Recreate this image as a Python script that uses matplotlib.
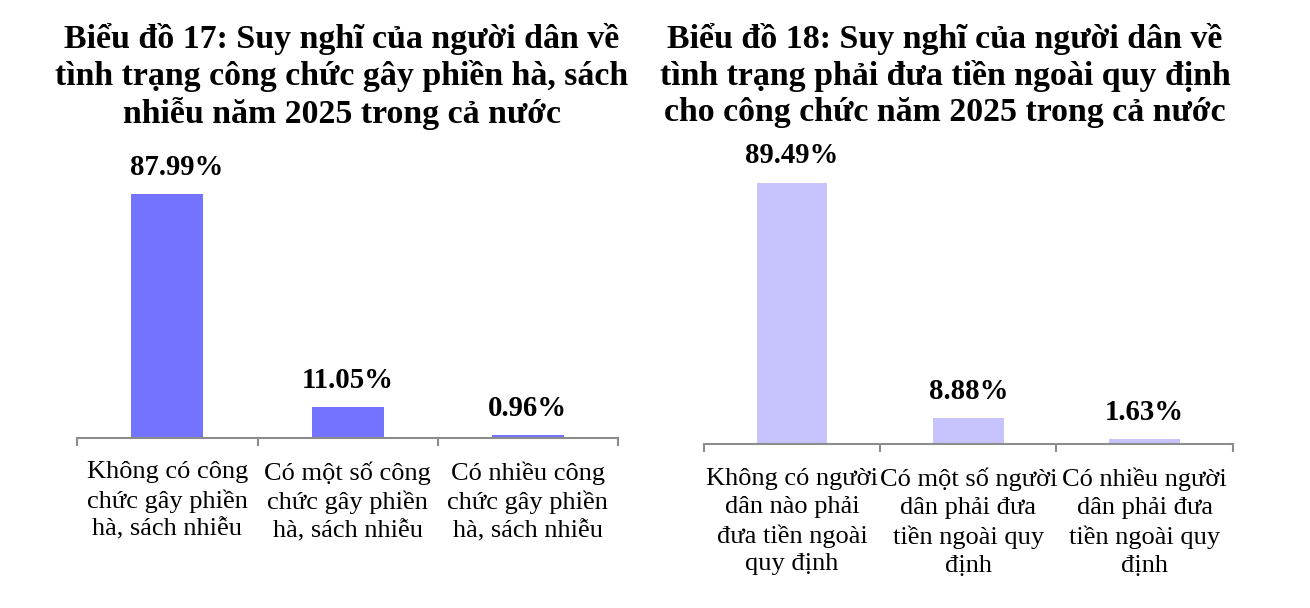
import matplotlib
matplotlib.use("Agg")
import matplotlib.pyplot as plt

plt.rcParams['font.family'] = ['Liberation Serif', 'DejaVu Serif']

W, H = 1310, 608

# ---- data ----
left_title = "Biểu đồ 17: Suy nghĩ của người dân về\ntình trạng công chức gây phiền hà, sách\nnhiễu năm 2025 trong cả nước"
left_categories = ["Không có công\nchức gây phiền\nhà, sách nhiễu",
                   "Có một số công\nchức gây phiền\nhà, sách nhiễu",
                   "Có nhiều công\nchức gây phiền\nhà, sách nhiễu"]
left_values = [87.99, 11.05, 0.96]

right_title = "Biểu đồ 18: Suy nghĩ của người dân về\ntình trạng phải đưa tiền ngoài quy định\ncho công chức năm 2025 trong cả nước"
right_categories = ["Không có người\ndân nào phải\nđưa tiền ngoài\nquy định",
                    "Có một số người\ndân phải đưa\ntiền ngoài quy\nđịnh",
                    "Có nhiều người\ndân phải đưa\ntiền ngoài quy\nđịnh"]
right_values = [89.49, 8.88, 1.63]

left_color = "#7373FF"
right_color = "#C6C3FD"
axis_color = "#8C8C8C"

fig = plt.figure(figsize=(W / 100, H / 100), dpi=100)
fig.patch.set_facecolor("white")


def px_axes(x0, x1, y_base, px_per_100):
    return fig.add_axes([x0 / W, (H - y_base) / H, (x1 - x0) / W, px_per_100 / H])


def draw(ax, cats, vals, color, label_dx, ls):
    n = len(cats)
    xs = list(range(n))
    ax.bar(xs, vals, width=0.4, color=color, zorder=2)
    ax.set_xlim(-0.5, n - 0.5)
    ax.set_ylim(0, 100)
    for s in ["top", "right", "left"]:
        ax.spines[s].set_visible(False)
    ax.spines["bottom"].set_color(axis_color)
    ax.spines["bottom"].set_linewidth(1.5)
    ax.set_yticks([])
    ax.set_xticks(xs)
    ax.set_xticklabels(cats, fontsize=19, linespacing=ls, va="top")
    ax.tick_params(axis="x", which="major", length=0, pad=17)
    ax.set_xticks([i - 0.5 for i in range(n + 1)], minor=True)
    ax.tick_params(axis="x", which="minor", length=6, width=1.5,
                   color=axis_color, direction="out")
    for x, v, dx in zip(xs, vals, label_dx):
        ax.annotate(f"{v:.2f}%", (x, v), xytext=(dx, 9.5), textcoords="offset points",
                    ha="center", va="bottom", fontsize=20.7, fontweight="bold")
    ax.patch.set_alpha(0)


axL = px_axes(77.3, 618, 437.7, 277)
draw(axL, left_categories, left_values, left_color, [7, 0, 0], 1.31)

axR = px_axes(704, 1232.7, 444, 292)
draw(axR, right_categories, right_values, right_color, [0, 0, 0], 1.35)

fig.text(342 / W, 1 - 23 / H, left_title, ha="center", va="top", fontsize=24.4,
         fontweight="bold", linespacing=1.2)
fig.text(945 / W, 1 - 23 / H, right_title, ha="center", va="top", fontsize=24.4,
         fontweight="bold", linespacing=1.2)

fig.savefig("out.png", dpi=100, facecolor="white")
